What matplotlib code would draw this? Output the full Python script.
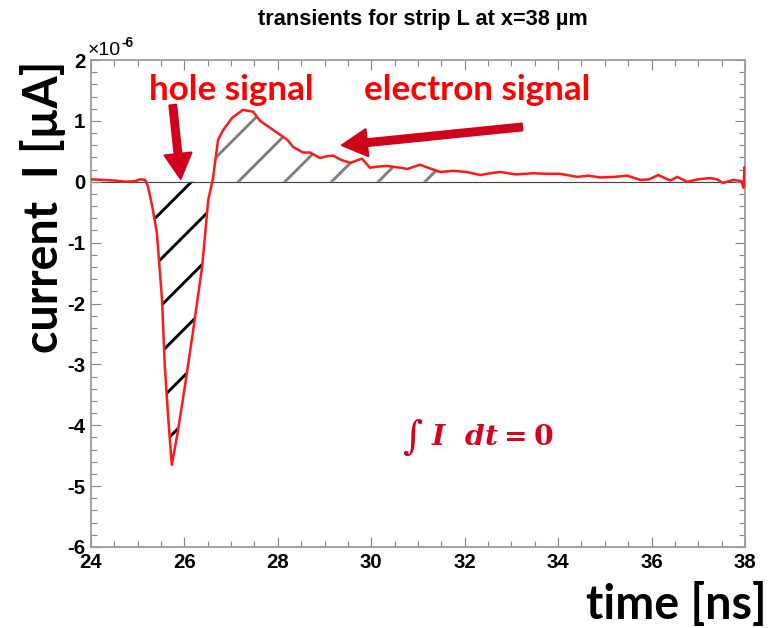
import matplotlib
matplotlib.use("Agg")
import matplotlib.pyplot as plt
import numpy as np
from matplotlib.ticker import MultipleLocator

# transient: time [ns], current [1e-6 uA]
time_ns = [24.00, 24.25, 24.50, 24.75, 24.95, 25.05, 25.16, 25.22, 25.31,
           25.41, 25.52, 25.58, 25.65, 25.73, 25.86, 26.01, 26.18, 26.38,
           26.51, 26.61, 26.72, 26.83, 27.02, 27.25, 27.47, 27.62, 27.90,
           28.20, 28.33, 28.54, 28.69, 28.90, 29.05, 29.18, 29.35, 29.55,
           29.80, 29.97, 30.15, 30.34, 30.62, 30.77, 31.04, 31.25, 31.47,
           31.75, 32.05, 32.33, 32.55, 32.76, 33.10, 33.46, 33.75, 34.04,
           34.41, 34.65, 34.90, 35.20, 35.48, 35.76, 35.95, 36.14, 36.40,
           36.55, 36.76, 37.00, 37.25, 37.40, 37.53, 37.75, 37.92, 37.97,
           37.99, 38.00]
current = [0.04, 0.03, 0.02, 0.00, 0.01, 0.04, 0.03, -0.08, -0.40,
           -0.84, -1.93, -3.03, -3.85, -4.65, -4.10, -3.36, -2.48, -1.39,
           -0.30, 0.05, 0.69, 0.85, 1.05, 1.18, 1.15, 1.00, 0.85,
           0.69, 0.57, 0.48, 0.48, 0.39, 0.42, 0.43, 0.36, 0.31,
           0.38, 0.23, 0.25, 0.26, 0.23, 0.21, 0.28, 0.22, 0.16,
           0.18, 0.16, 0.11, 0.14, 0.16, 0.12, 0.14, 0.13, 0.13,
           0.08, 0.10, 0.07, 0.08, 0.10, 0.03, 0.04, 0.11, 0.02,
           0.08, 0.00, 0.04, 0.06, 0.04, -0.02, 0.03, 0.01, -0.10,
           0.24, 0.05]

hole_range = [25.1, 26.6]
electron_range = [26.6, 31.5]

x_ticks = [24, 26, 28, 30, 32, 34, 36, 38]
y_ticks = [-6, -5, -4, -3, -2, -1, 0, 1, 2]

plt.rcParams['axes.unicode_minus'] = False
plt.rcParams['hatch.linewidth'] = 1.5
plt.rcParams['mathtext.fontset'] = 'custom'
plt.rcParams['mathtext.rm'] = 'DejaVu Serif:bold'
plt.rcParams['mathtext.it'] = 'DejaVu Serif:italic:bold'
plt.rcParams['mathtext.bf'] = 'DejaVu Serif:bold'

DPI = 140
fig = plt.figure(figsize=(778 / DPI, 628 / DPI), dpi=DPI)
fig.subplots_adjust(left=91 / 778, right=745 / 778,
                    top=1 - 60 / 628, bottom=1 - 547 / 628)
ax = fig.add_subplot(111)

t = np.array(time_ns)
cur = np.array(current)

# hatched areas under the curve
hole = (t >= hole_range[0]) & (t <= hole_range[1])
ax.fill_between(t, cur, 0, where=hole & (cur <= 0), interpolate=True,
                facecolor='none', edgecolor='black', hatch='/', linewidth=0)
elec = (t >= electron_range[0]) & (t <= electron_range[1])
ax.fill_between(t, cur, 0, where=elec & (cur >= 0), interpolate=True,
                facecolor='none', edgecolor='#808080', hatch='/', linewidth=0)

ax.axhline(0, color='#444444', linewidth=0.6, zorder=1)
ax.plot(t, cur, color='#ff1a1a', linewidth=1.3, zorder=3)

ax.set_xlim(24, 38)
ax.set_ylim(-6, 2)
ax.set_xticks(x_ticks)
ax.set_yticks(y_ticks)
ax.xaxis.set_minor_locator(MultipleLocator(0.5))
ax.yaxis.set_minor_locator(MultipleLocator(0.2))
ax.tick_params(which='both', direction='in', top=True, right=True,
               color='#888888', width=0.6)
ax.tick_params(which='major', length=5, pad=3, labelsize=10.5)
ax.tick_params(which='minor', length=3)
for lab in ax.get_xticklabels() + ax.get_yticklabels():
    lab.set_family('Liberation Sans')
    lab.set_fontweight('bold')
for sp in ax.spines.values():
    sp.set_color('#999999')
    sp.set_linewidth(0.9)

fig.text(88 / 778, 1 - 55 / 628, '×10', fontsize=10,
         family='Liberation Sans', ha='left', va='baseline')
fig.text(121 / 778, 1 - 47 / 628, '-6', fontsize=7,
         family='Liberation Sans', fontweight='bold', ha='left', va='baseline')

fig.text(423 / 778, 1 - 20 / 628, 'transients for strip L at x=38 µm',
         fontsize=11.2, family='Liberation Sans', fontweight='bold',
         ha='center', va='center')

fig.text(43 / 778, 1 - 207 / 628, 'current  I [µA]', rotation=90,
         fontsize=24, family=['Lato', 'DejaVu Sans'], fontweight='bold',
         ha='center', va='center')
fig.text(767 / 778, 1 - 605 / 628, 'time [ns]',
         fontsize=24, family=['Lato', 'DejaVu Sans'], fontweight='bold',
         ha='right', va='center')

# annotations
ax.text(27.0, 1.51, 'hole signal', color='#ff0000', fontsize=18,
        family=['Lato', 'DejaVu Sans'], fontweight='bold',
        ha='center', va='center', clip_on=False)
ax.text(32.26, 1.51, 'electron signal', color='#ff0000', fontsize=18,
        family=['Lato', 'DejaVu Sans'], fontweight='bold',
        ha='center', va='center', clip_on=False)
arrow_style = 'simple,head_length=0.65,head_width=0.7,tail_width=0.18'
ax.annotate('', xy=(25.92, 0.045), xytext=(25.75, 1.26),
            arrowprops=dict(arrowstyle=arrow_style, color='#d0021b',
                            mutation_scale=20, shrinkA=0, shrinkB=0))
ax.annotate('', xy=(29.37, 0.60), xytext=(33.23, 0.90),
            arrowprops=dict(arrowstyle=arrow_style, color='#d0021b',
                            mutation_scale=20, shrinkA=0, shrinkB=0))

ax.text(30.87, -4.21, '∫', color='#d9001b', fontsize=20,
        family='DejaVu Serif', ha='center', va='center')
ax.text(31.27, -4.19, r'$I\ \ dt = 0$', color='#d9001b', fontsize=14.5,
        ha='left', va='center')

fig.savefig('out.png', dpi=DPI)
plt.close('all')
